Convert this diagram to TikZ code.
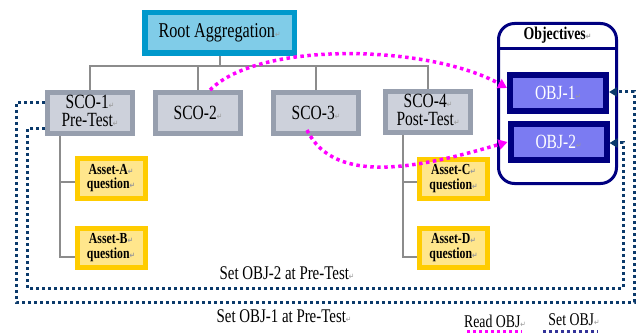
\documentclass[tikz,border=0pt]{standalone}
\usepackage{fontspec}
\usepackage{graphicx}
\setmainfont{Liberation Serif}
\newfontfamily\symfont{DejaVu Sans}
\usetikzlibrary{arrows.meta}

\definecolor{rootline}{HTML}{0099CC}
\definecolor{rootfill}{HTML}{80CCE8}
\definecolor{scoline}{HTML}{979FAE}
\definecolor{scofill}{HTML}{CDD1DB}
\definecolor{assetline}{HTML}{FFCC00}
\definecolor{assetfill}{HTML}{FFE68C}
\definecolor{objnavy}{HTML}{000080}
\definecolor{objfill}{HTML}{7B7BF2}
\definecolor{treegray}{HTML}{8C8C8C}
\definecolor{readmag}{HTML}{FF00FF}
\definecolor{setnavy}{HTML}{0B3A6B}
\definecolor{legnavy}{HTML}{333399}

% tall, narrow lettering
\newcommand{\vs}[1]{\scalebox{1}[1.3]{#1}}
% paragraph mark
\newcommand{\pmark}{{\symfont\fontsize{6.5}{6.5}\selectfont\textcolor{gray!80}{↵}}}
\newcommand{\twoline}[2]{\vs{\begin{tabular}{@{}c@{}}#1\pmark\\#2\pmark\end{tabular}}}

\begin{document}
\begin{tikzpicture}[x=1pt,y=-1pt,
  rootbox/.style={draw=rootline, line width=5.5pt, fill=rootfill,
    minimum width=149.5pt, minimum height=40.5pt, inner sep=0pt,
    font=\fontsize{16.2}{16}\selectfont},
  scobox/.style={draw=scoline, line width=5pt, fill=scofill,
    minimum width=85pt, minimum height=41pt, inner sep=0pt,
    font=\fontsize{15.5}{13}\selectfont},
  assetbox/.style={draw=assetline, line width=5pt, fill=assetfill,
    minimum width=68pt, minimum height=39pt, inner sep=0pt,
    font=\bfseries\fontsize{11.8}{10.6}\selectfont},
  objbox/.style={draw=objnavy, line width=6pt, fill=objfill,
    minimum width=96pt, minimum height=36pt, inner sep=0pt, text=white,
    font=\fontsize{15.5}{15.5}\selectfont},
  objframe/.style={draw=objnavy, line width=3pt, fill=white,
    rounded corners=16pt, minimum width=118pt, minimum height=160pt, inner sep=0pt},
  tree/.style={draw=treegray, line width=2pt},
  readlink/.style={draw=readmag, line width=3.5pt, dash pattern=on 3.5pt off 3.5pt,
    -{Triangle[length=9pt,width=10pt]}},
  setlink/.style={draw=setnavy, line width=3pt, dash pattern=on 3pt off 3pt,
    -{Triangle[length=8pt,width=9pt]}},
  label/.style={inner sep=0pt, font=\fontsize{14.9}{14.9}\selectfont},
]
\useasboundingbox (0,0) rectangle (640,334);

% tree of content
\node[rootbox] (root) at (219.5,33) {\vs{Root Aggregation\pmark}};
\node[scobox] (sco1) at (90,113) {\twoline{SCO-1}{Pre-Test}};
\node[scobox] (sco2) at (198,113) {\vs{SCO-2\pmark}};
\node[scobox] (sco3) at (316,113) {\vs{SCO-3\pmark}};
\node[scobox] (sco4) at (428,112) {\twoline{SCO-4}{Post-Test}};

\node[assetbox] (assetA) at (111,178.5) {\twoline{Asset-A}{question}};
\node[assetbox] (assetB) at (111,248) {\twoline{Asset-B}{question}};
\node[assetbox] (assetC) at (453.5,179) {\twoline{Asset-C}{question}};
\node[assetbox] (assetD) at (453.5,248) {\twoline{Asset-D}{question}};

\coordinate (hub) at (219.5,66);
\draw[tree] (root.south) -- (hub);
\draw[tree] (sco1.north) -- (sco1.north |- hub) -- (sco4.north |- hub) -- (sco4.north);
\draw[tree] (sco2.north) -- (sco2.north |- hub);
\draw[tree] (sco3.north) -- (sco3.north |- hub);

\coordinate (branch1) at (59.5,136);
\draw[tree] (sco1.south -| branch1) |- ([yshift=-9pt]assetB.west);
\draw[tree] (branch1 |- assetA.west) ++(0,3.5) -- ([yshift=-3.5pt]assetA.west);
\coordinate (branch4) at (403,136);
\draw[tree] (sco4.south -| branch4) |- ([yshift=-9pt]assetD.west);
\draw[tree] (branch4 |- assetC.west) ++(0,3) -- ([yshift=-3pt]assetC.west);

% objectives panel
\node[objframe] (objs) at (557.5,103.5) {};
\node[inner sep=0pt, font=\bfseries\fontsize{13.8}{13.8}\selectfont] (objtitle) at (557.5,35) {\vs{Objectives\pmark}};
\draw[draw=objnavy, line width=3pt] (objs.west |- 0,49) -- (objs.east |- 0,49);
\node[objbox] (obj1) at (558,93) {\vs{OBJ-1\pmark}};
\node[objbox] (obj2) at (558.5,142) {\vs{OBJ-2\pmark}};

% read links
\draw[readlink] ([xshift=12pt]sco2.north) .. controls (260,40) and (430,45) .. ([yshift=5pt]obj1.west);
\draw[readlink] ([xshift=-9pt,yshift=6pt]sco3.south) .. controls (335,188) and (425,166) .. (obj2.west);

% set links
\draw[setlink] ([yshift=10pt]sco1.west) -- (16,103) -- (16,302) -- (634,302) -- (634,92) -- ([yshift=1pt]obj1.east);
\draw[setlink] ([yshift=-16pt]sco1.west) -- (27,129) -- (27,288) -- (623,288) -- (623,143) -- ([yshift=-1pt]obj2.east);

\node[label] (set2) at (287,273) {\vs{Set OBJ-2 at Pre-Test\pmark}};
\node[label] (set1) at (284,316) {\vs{Set OBJ-1 at Pre-Test\pmark}};

% legend
\node[label, font=\fontsize{13.8}{13.8}\selectfont] (readkey) at (495,321) {\vs{Read OBJ\pmark}};
\node[label, font=\fontsize{13.8}{13.8}\selectfont] (setkey) at (574,320) {\vs{Set OBJ\pmark}};
\coordinate (readA) at (467,331.5);
\coordinate (readB) at (522,331.5);
\coordinate (setA) at (543,331.5);
\coordinate (setB) at (598,331.5);
\draw[draw=readmag, line width=3pt, dash pattern=on 3pt off 3pt] (readA) -- (readB);
\draw[draw=legnavy, line width=3pt, dash pattern=on 3pt off 3pt] (setA) -- (setB);
\end{tikzpicture}
\end{document}
